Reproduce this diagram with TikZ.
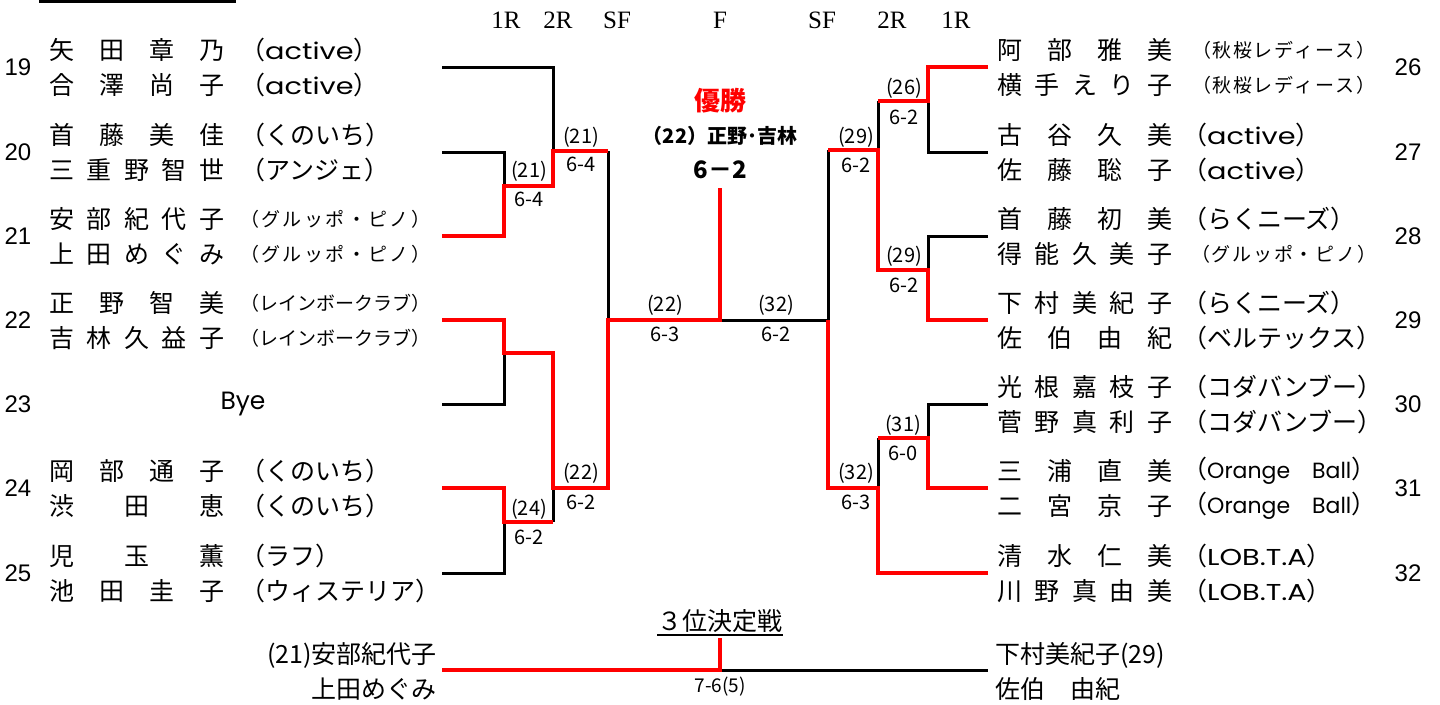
\documentclass[tikz,border=0pt]{standalone}
\usepackage{fontspec}
\setmainfont{Liberation Sans}
\newfontfamily\jp{Noto Sans CJK JP}
\newfontfamily\srf{Liberation Serif}
\newfontfamily\lat[FakeStretch=1.25]{Poppins}
\newfontfamily\latn{Poppins}
\definecolor{rd}{RGB}{255,0,0}
\newcommand\hf{\hfill}
\newcommand\fs[1]{\fontsize{#1}{#1}\selectfont}
\newcommand\nmL[1]{\makebox[175pt]{#1}}
\newcommand\smc[2]{{\fs{19}\makebox[#1pt]{#2}}}
\newcommand\lc[1]{{\jp（}{\lat\fs{23}#1}{\jp）}}
\newcommand\lcs[1]{{\jp（}{\latn\fs{22}#1}{\jp）}}
\tikzset{
  num/.style={font=\fs{24}, inner sep=0},
  nm/.style={font=\jp\fs{25}, inner sep=0, anchor=west},
  sc/.style={font=\jp\fs{20}, inner sep=0},
  hd/.style={font=\srf\fs{25}, inner sep=0},
  bk/.style={line width=3pt, black, line join=miter},
  rl/.style={line width=4.6pt, rd, line join=miter},
}
\newcommand\rowL[6]{%
  \node[num] (num#2) at (18,#1) {#2};
  \node[nm] (n#2a) at (49,{#1-17}) {#3};
  \node[nm] (c#2a) at (240,{#1-17}) {#4};
  \node[nm] (n#2b) at (49,{#1+18}) {#5};
  \node[nm] (c#2b) at (240,{#1+18}) {#6};
  \coordinate (e#2) at (442,#1);}
\newcommand\rowR[6]{%
  \node[num] (num#2) at (1408,#1) {#2};
  \node[nm] (n#2a) at (997,{#1-17}) {#3};
  \node[nm] (c#2a) at (1182,{#1-17}) {#4};
  \node[nm] (n#2b) at (997,{#1+18}) {#5};
  \node[nm] (c#2b) at (1182,{#1+18}) {#6};
  \coordinate (e#2) at (988,#1);}
\newcommand\score[6]{%
  \node[sc] (#1w) at (#2,#3) {#5};
  \node[sc] (#1s) at (#2,#4) {#6};}
\begin{document}
\begin{tikzpicture}[x=1pt,y=-1pt]
\useasboundingbox (0,0) rectangle (1440,704);
\fill[white] (0,0) rectangle (1440,704);
% top-left frame
\draw[line width=3.3pt] (40.5,-20) rectangle (234,1.7);
% headers
\node[hd] (h1) at (506,20) {1R};
\node[hd] (h2) at (558,20) {2R};
\node[hd] (h3) at (617,20) {SF};
\node[hd] (h4) at (720,20) {F};
\node[hd] (h5) at (822,20) {SF};
\node[hd] (h6) at (892,20) {2R};
\node[hd] (h7) at (956,20) {1R};
% left entries
\rowL{67}{19}{\nmL{矢\hf 田\hf 章\hf 乃}}{\lc{active}}{\nmL{合\hf 澤\hf 尚\hf 子}}{\lc{active}}
\rowL{152}{20}{\nmL{首\hf 藤\hf 美\hf 佳}}{（くのいち）}{\nmL{三\hf 重\hf 野\hf 智\hf 世}}{（アンジェ）}
\rowL{236}{21}{\nmL{安\hf 部\hf 紀\hf 代\hf 子}}{\smc{190}{（\hf グ\hf ル\hf ッ\hf ポ\hf ・\hf ピ\hf ノ\hf ）}}{\nmL{上\hf 田\hf め\hf ぐ\hf み}}{\smc{190}{（\hf グ\hf ル\hf ッ\hf ポ\hf ・\hf ピ\hf ノ\hf ）}}
\rowL{320}{22}{\nmL{正\hf 野\hf 智\hf 美}}{\smc{190}{（レインボークラブ）}}{\nmL{吉\hf 林\hf 久\hf 益\hf 子}}{\smc{190}{（レインボークラブ）}}
\node[num] (num23) at (18,404) {23};
\node[inner sep=0, font=\latn\fs{25}] (bye) at (243,404) {Bye};
\coordinate (e23) at (442,404);
\rowL{488}{24}{\nmL{岡\hf 部\hf 通\hf 子}}{（くのいち）}{\nmL{渋\hf 田\hf 恵}}{（くのいち）}
\rowL{573}{25}{\nmL{児\hf 玉\hf 薫}}{（ラフ）}{\nmL{池\hf 田\hf 圭\hf 子}}{（ウィステリア）}
% right entries
\rowR{67}{26}{\nmL{阿\hf 部\hf 雅\hf 美}}{\hspace*{10pt}\smc{183}{（\hf 秋\hf 桜\hf レ\hf デ\hf ィ\hf ー\hf ス\hf ）}}{\nmL{横\hf 手\hf え\hf り\hf 子}}{\hspace*{10pt}\smc{183}{（\hf 秋\hf 桜\hf レ\hf デ\hf ィ\hf ー\hf ス\hf ）}}
\rowR{152}{27}{\nmL{古\hf 谷\hf 久\hf 美}}{\lc{active}}{\nmL{佐\hf 藤\hf 聡\hf 子}}{\lc{active}}
\rowR{236}{28}{\nmL{首\hf 藤\hf 初\hf 美}}{（らくニーズ）}{\nmL{得\hf 能\hf 久\hf 美\hf 子}}{\hspace*{9pt}\smc{185}{（\hf グ\hf ル\hf ッ\hf ポ\hf ・\hf ピ\hf ノ\hf ）}}
\rowR{320}{29}{\nmL{下\hf 村\hf 美\hf 紀\hf 子}}{（らくニーズ）}{\nmL{佐\hf 伯\hf 由\hf 紀}}{（ベルテックス）}
\rowR{404}{30}{\nmL{光\hf 根\hf 嘉\hf 枝\hf 子}}{（コダバンブー）}{\nmL{菅\hf 野\hf 真\hf 利\hf 子}}{（コダバンブー）}
\rowR{488}{31}{\nmL{三\hf 浦\hf 直\hf 美}}{\lcs{Orange\hspace{22pt}Ball}}{\nmL{二\hf 宮\hf 京\hf 子}}{\lcs{Orange\hspace{22pt}Ball}}
\rowR{573}{32}{\nmL{清\hf 水\hf 仁\hf 美}}{\lc{LOB.T.A}}{\nmL{川\hf 野\hf 真\hf 由\hf 美}}{\lc{LOB.T.A}}
% match points
\coordinate (L1a) at (504,186);
\coordinate (L2a) at (553,151);
\coordinate (L1b) at (504,353);
\coordinate (L1c) at (504,522);
\coordinate (L2b) at (553,488);
\coordinate (LSF) at (608,320);
\coordinate (F) at (720,320);
\coordinate (RSF) at (828,320);
\coordinate (R1a) at (928,101);
\coordinate (R1b) at (928,270);
\coordinate (R2a) at (878,150);
\coordinate (R1c) at (928,438);
\coordinate (R2b) at (878,488);
\coordinate (champ) at (720,188);
% black lines
\draw[bk] (e19) -| (L2a);
\draw[bk] (e20) -| (L1a);
\draw[bk] (L2a -| LSF) -- (LSF);
\draw[bk] (e23) -| (L1b);
\draw[bk] (L1c -| L2b) -- (L2b);
\draw[bk] (e25) -| (L1c);
\draw[bk] (e27) -| (R1a);
\draw[bk] (R1a -| R2a) -- (R2a);
\draw[bk] (e28) -| (R1b);
\draw[bk] (R2a -| RSF) -- (RSF) -- (F);
\draw[bk] (e30) -| (R1c);
\draw[bk] (R1c -| R2b) -- (R2b);
% red lines
\draw[rl] (e21) -| (L1a) -| (L2a) -- (L2a -| LSF);
\draw[rl] (e22) -| (L1b) -| (L2b) -| (LSF) -- (F) -- (champ);
\draw[rl] (e24) -| (L1c) -- (L1c -| L2b);
\draw[rl] (e26) -| (R1a) -- (R1a -| R2a);
\draw[rl] (e29) -| (R1b) -- (R1b -| R2a) -- (R2a) -- (R2a -| RSF);
\draw[rl] (e32) -| (R2b) -- (R2b -| RSF) -- (RSF);
\draw[rl] (e31) -| (R1c) -- (R1c -| R2b);
% scores
\score{sa}{529}{171}{199}{(21)}{6-4}
\score{sb}{581}{137}{164}{(21)}{6-4}
\score{sc}{529}{509}{537}{(24)}{6-2}
\score{sd}{581}{473}{502}{(22)}{6-2}
\score{se}{665}{305}{334}{(22)}{6-3}
\score{sf}{776}{305}{334}{(32)}{6-2}
\score{sg}{904}{88}{117}{(26)}{6-2}
\score{sh}{856}{137}{165}{(29)}{6-2}
\score{si}{904}{256}{285}{(29)}{6-2}
\score{sj}{903}{425}{453}{(31)}{6-0}
\score{sk}{856}{473}{502}{(32)}{6-3}
% champion
\node[inner sep=0, font=\jp\bfseries\fs{26}, text=rd] (win) at (720,101) {優勝};
\node[inner sep=0, font=\jp\bfseries\fs{20}] (winname) at (720,136) {（22）正野･吉林};
\node[inner sep=0, font=\jp\bfseries\fs{24}] (winscore) at (720,170) {6－2};
% third place
\node[inner sep=0, font=\jp\fs{25}] (t3) at (720,621) {３位決定戦};
\draw[line width=1.8pt] ([yshift=-2pt]t3.south west) -- ([yshift=-2pt]t3.south east);
\coordinate (tl) at (442,670);
\coordinate (tr) at (988,670);
\coordinate (tm) at (720,670);
\coordinate (tt) at (720,638);
\draw[bk] (tm) -- (tr);
\draw[rl] (tl) -- (tm) -- (tt);
\node[inner sep=0, font=\jp\fs{19}] (t3s) at (720,687) {7-6(5)};
\node[inner sep=0, font=\jp\fs{25}, anchor=east] (t3l1) at (437,655) {(21)安部紀代子};
\node[inner sep=0, font=\jp\fs{25}, anchor=east] (t3l2) at (437,689) {上田めぐみ};
\node[inner sep=0, font=\jp\fs{25}, anchor=west] (t3r1) at (995,655) {下村美紀子(29)};
\node[inner sep=0, font=\jp\fs{25}, anchor=west] (t3r2) at (995,689) {佐伯　由紀};
\end{tikzpicture}
\end{document}
